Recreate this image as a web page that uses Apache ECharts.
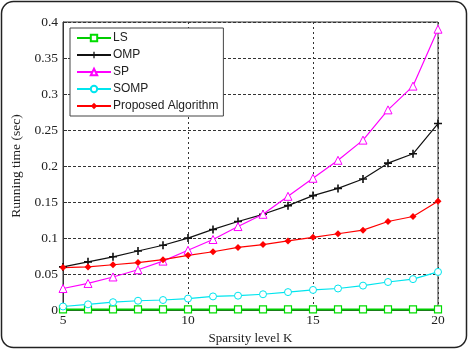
<!DOCTYPE html>
<html>
<head>
<meta charset="utf-8">
<script src="https://cdn.jsdelivr.net/npm/echarts@6/dist/echarts.min.js"></script>
<style>
html, body { margin: 0; padding: 0; background: #fff; }
#main { width: 469px; height: 350px; }
</style>
</head>
<body>
<div id="main"></div>
<script>
var kValues = [5, 6, 7, 8, 9, 10, 11, 12, 13, 14, 15, 16, 17, 18, 19, 20];
var lsData = [0.001, 0.001, 0.001, 0.001, 0.001, 0.001, 0.001, 0.001, 0.001, 0.001, 0.001, 0.001, 0.001, 0.001, 0.001, 0.001];
var ompData = [0.060, 0.067, 0.074, 0.082, 0.090, 0.100, 0.112, 0.123, 0.133, 0.145, 0.159, 0.169, 0.182, 0.204, 0.217, 0.259];
var spData = [0.030, 0.037, 0.046, 0.056, 0.068, 0.083, 0.098, 0.116, 0.133, 0.158, 0.183, 0.208, 0.236, 0.278, 0.311, 0.390];
var sompData = [0.005, 0.008, 0.011, 0.013, 0.014, 0.016, 0.019, 0.020, 0.022, 0.025, 0.028, 0.030, 0.034, 0.039, 0.043, 0.053];
var propData = [0.059, 0.060, 0.063, 0.066, 0.070, 0.076, 0.081, 0.087, 0.091, 0.096, 0.101, 0.106, 0.111, 0.123, 0.130, 0.151];
var yTicks = ['0', '0.05', '0.1', '0.15', '0.2', '0.25', '0.3', '0.35', '0.4'];

var plusPath = 'path://M4,0h2v4h4v2h-4v4h-2v-4h-4v-2h4z';

function pairs(arr) {
    return arr.map(function (v, i) { return [kValues[i], v]; });
}

var myChart = echarts.init(document.getElementById('main'));
var option = {
    backgroundColor: '#fff',
    animation: false,
    graphic: [{
        type: 'rect',
        shape: { x: 1.5, y: 1.5, width: 465, height: 346, r: 12 },
        style: { fill: 'none', stroke: '#222', lineWidth: 1.5 },
        z: 100
    }],
    legend: {
        orient: 'vertical',
        left: 70,
        top: 28,
        itemWidth: 34,
        itemHeight: 8,
        itemGap: 5,
        padding: [4, 5, 4, 6],
        borderColor: '#444',
        borderWidth: 1,
        backgroundColor: '#fff',
        textStyle: { fontFamily: 'Liberation Sans', fontSize: 12, color: '#222', padding: [0, 0, 0, -3] },
        data: ['LS', 'OMP', 'SP', 'SOMP', 'Proposed Algorithm']
    },
    grid: {
        left: 63,
        right: 31,
        top: 22,
        bottom: 32,
        show: true,
        borderColor: '#333',
        borderWidth: 1
    },
    xAxis: {
        type: 'value',
        min: 5,
        max: 20,
        interval: 5,
        name: 'Sparsity level K',
        nameLocation: 'middle',
        nameGap: 21,
        nameTextStyle: { fontFamily: 'Liberation Serif', fontSize: 13, color: '#222' },
        axisLine: { lineStyle: { color: '#333' } },
        axisTick: { inside: true, length: 4, lineStyle: { color: '#333' } },
        axisLabel: { fontFamily: 'Liberation Serif', fontSize: 13.5, color: '#222', margin: 3 },
        splitLine: { show: true, lineStyle: { color: '#333', type: [2, 3], width: 1 } }
    },
    yAxis: {
        type: 'value',
        min: 0,
        max: 0.4,
        interval: 0.05,
        name: 'Running time (sec)',
        nameLocation: 'middle',
        nameGap: 38,
        nameTextStyle: { fontFamily: 'Liberation Serif', fontSize: 13.5, color: '#222' },
        axisLine: { lineStyle: { color: '#333' } },
        axisTick: { inside: true, length: 4, lineStyle: { color: '#333' } },
        axisLabel: {
            fontFamily: 'Liberation Serif', fontSize: 13.5, color: '#222', margin: 5,
            formatter: function (v) {
                var idx = Math.round(v / 0.05);
                return yTicks[idx];
            }
        },
        splitLine: { show: true, lineStyle: { color: '#333', type: [3, 2], width: 1 } }
    },
    series: [{
        name: 'LS',
        type: 'line',
        data: pairs(lsData),
        symbol: 'rect',
        symbolSize: 7,
        showAllSymbol: true,
        color: '#00dd00',
        lineStyle: { width: 2, color: '#00cc00' },
        itemStyle: { color: '#fff', borderColor: '#00dd00', borderWidth: 1.2 }
    }, {
        name: 'OMP',
        type: 'line',
        data: pairs(ompData),
        symbol: plusPath,
        symbolSize: 8,
        color: '#111',
        lineStyle: { width: 1.2, color: '#111' },
        itemStyle: { color: '#111' }
    }, {
        name: 'SP',
        type: 'line',
        data: pairs(spData),
        symbol: 'triangle',
        symbolSize: 8,
        color: '#ff00ff',
        lineStyle: { width: 1.2, color: '#ff00ff' },
        itemStyle: { color: '#fff', borderColor: '#ff00ff', borderWidth: 1 }
    }, {
        name: 'SOMP',
        type: 'line',
        data: pairs(sompData),
        symbol: 'circle',
        symbolSize: 7,
        color: '#00e5ee',
        lineStyle: { width: 1.2, color: '#00e5ee' },
        itemStyle: { color: '#fff', borderColor: '#00e5ee', borderWidth: 1 }
    }, {
        name: 'Proposed Algorithm',
        type: 'line',
        data: pairs(propData),
        symbol: 'diamond',
        symbolSize: 7,
        color: '#ff0000',
        lineStyle: { width: 1.2, color: '#ff0000' },
        itemStyle: { color: '#ff0000' }
    }]
};
myChart.setOption(option);
</script>
</body>
</html>
